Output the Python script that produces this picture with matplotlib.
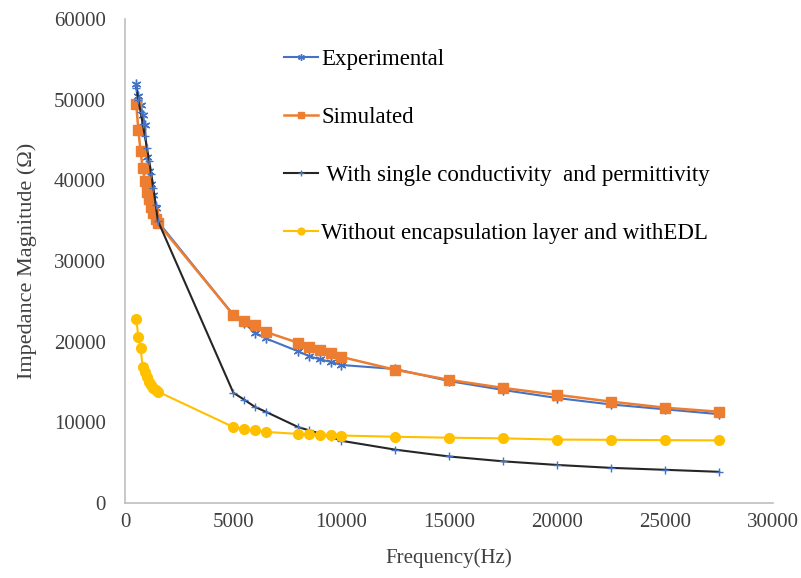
import matplotlib.pyplot as plt

plt.rcParams['font.family'] = ['Liberation Serif', 'DejaVu Serif']

# frequencies (Hz)
freq = [500, 600, 700, 800, 900, 1000, 1100, 1200, 1300, 1400, 1500,
        5000, 5500, 6000, 6500, 8000, 8500, 9000, 9500, 10000,
        12500, 15000, 17500, 20000, 22500, 25000, 27500]

experimental = [52000, 50400, 49400, 48100, 46900, 42900, 41100, 39500, 38200, 36600, 34900,
                23300, 22300, 21100, 20400, 18800, 18200, 17800, 17500, 17100,
                16600, 15100, 14000, 13000, 12200, 11600, 11000]

simulated = [49500, 46200, 43600, 41500, 39900, 38600, 37700, 36700, 35900, 35200, 34700,
             23300, 22600, 22000, 21200, 19850, 19350, 18900, 18600, 18100,
             16500, 15250, 14250, 13400, 12550, 11800, 11300]

single = [51500, 50000, 48500, 47000, 45500, 44000, 42400, 40800, 39000, 37000, 35000,
          13650, 12800, 11900, 11300, 9400, 9000, 8600, 8200, 7700,
          6600, 5750, 5150, 4700, 4340, 4100, 3850]

no_encap = [22800, 20600, 19200, 16800, 16200, 15600, 15000, 14600, 14300, 14000, 13800,
            9400, 9150, 9000, 8800, 8550, 8500, 8450, 8400, 8350,
            8200, 8080, 8000, 7850, 7820, 7780, 7750]

fig = plt.figure(figsize=(8.01, 5.78), dpi=100)
ax = fig.add_axes([0.1566, 0.130, 0.8085, 0.837])

ax.plot(freq, experimental, color='#4472C4', lw=1.5, marker=(6, 2, 0), ms=7, mew=1.0,
        label='Experimental')
ax.plot(freq, simulated, color='#ED7D31', lw=1.8, marker='s', ms=7,
        label='Simulated')
ax.plot(freq, single, color='#262626', lw=1.5, marker='+', ms=6, mew=1.0, mec='#4472C4',
        label=' With single conductivity  and permittivity')
ax.plot(freq, no_encap, color='#FFC000', lw=1.5, marker='o', ms=7,
        label='Without encapsulation layer and withEDL')

ax.set_xlim(0, 30000)
ax.set_ylim(0, 60000)
ax.set_xticks(range(0, 30001, 5000))
ax.set_yticks(range(0, 60001, 10000))
ax.tick_params(length=0, labelsize=15, colors='#404040')
ax.tick_params(axis='x', pad=7)
ax.tick_params(axis='y', pad=14)

for s in ['top', 'right']:
    ax.spines[s].set_visible(False)
for s in ['left', 'bottom']:
    ax.spines[s].set_color('#BFBFBF')
    ax.spines[s].set_linewidth(1.2)

ax.set_xlabel('Frequency(Hz)', fontsize=15, color='#404040', labelpad=12)
ax.set_ylabel('Impedance Magnitude (Ω)', fontsize=16, color='#404040', labelpad=12)

ax.legend(loc='upper left', bbox_to_anchor=(0.2125, 0.98), frameon=False,
          fontsize=16.5, labelspacing=1.6, handlelength=1.5, handletextpad=0.15,
          numpoints=1, markerscale=0.7)

fig.savefig('out.png', dpi=100)
